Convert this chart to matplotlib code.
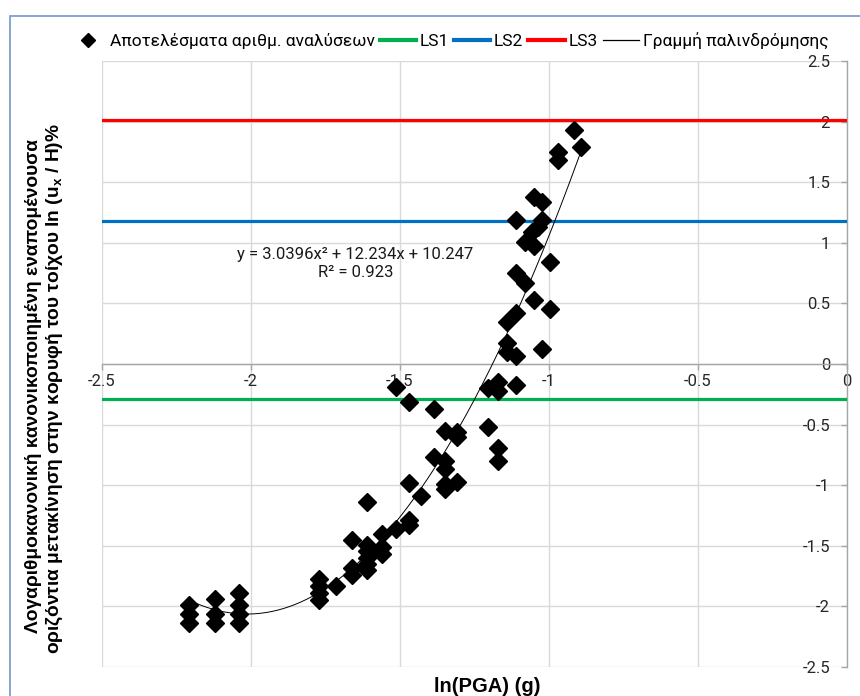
import numpy as np
import matplotlib
matplotlib.use("Agg")
import matplotlib.pyplot as plt
from matplotlib.lines import Line2D
from matplotlib.patches import Rectangle

plt.rcParams['axes.unicode_minus'] = False
plt.rcParams['font.family'] = ['Roboto', 'DejaVu Sans']

# ln(PGA) of each numerical analysis and the normalised residual displacement ln(ux/H)%
ln_pga = [
    -2.207, -2.207, -2.207,
    -2.120, -2.120, -2.120,
    -2.040, -2.040, -2.040, -2.040,
    -1.772, -1.772, -1.772, -1.772,
    -1.715,
    -1.661, -1.661, -1.661,
    -1.609, -1.609, -1.609, -1.609, -1.609, -1.609,
    -1.561, -1.561, -1.561,
    -1.514, -1.514,
    -1.470, -1.470, -1.470, -1.470,
    -1.427,
    -1.386, -1.386,
    -1.347, -1.347, -1.347, -1.347, -1.347,
    -1.309, -1.309, -1.309,
    -1.204, -1.204,
    -1.171, -1.171, -1.171, -1.171,
    -1.139, -1.139, -1.139,
    -1.109, -1.109, -1.109, -1.109, -1.109,
    -1.079, -1.079,
    -1.050, -1.055, -1.050, -1.050,
    -1.022, -1.022, -1.036, -1.022,
    -0.994, -0.994,
    -0.968, -0.968,
    -0.916,
    -0.892,
]
ln_disp = [
    -1.99, -2.06, -2.14,
    -1.94, -2.06, -2.14,
    -1.89, -1.99, -2.06, -2.14,
    -1.77, -1.83, -1.89, -1.95,
    -1.83,
    -1.45, -1.68, -1.74,
    -1.14, -1.49, -1.54, -1.60, -1.65, -1.70,
    -1.40, -1.51, -1.57,
    -1.36, -0.19,
    -0.31, -0.98, -1.29, -1.33,
    -1.09,
    -0.37, -0.77,
    -0.55, -0.80, -0.87, -0.99, -1.03,
    -0.56, -0.60, -0.97,
    -0.20, -0.52,
    -0.15, -0.22, -0.69, -0.80,
    0.35, 0.17, 0.10,
    1.19, 0.75, 0.42, 0.07, -0.17,
    1.01, 0.67,
    1.38, 1.09, 0.97, 0.53,
    1.34, 1.19, 1.13, 0.12,
    0.84, 0.45,
    1.75, 1.68,
    1.93,
    1.79,
]

# limit states (horizontal thresholds)
ls_names = ['LS1', 'LS2', 'LS3']
ls_values = [-0.29, 1.18, 2.01]
ls_colors = ['#00B050', '#0070C0', '#FF0000']

# quadratic regression coefficients
coef = [3.0396, 12.234, 10.247]
r2 = 0.923

xticks = [-2.5, -2.0, -1.5, -1.0, -0.5, 0.0]
yticks = [-2.5, -2.0, -1.5, -1.0, -0.5, 0.0, 0.5, 1.0, 1.5, 2.0, 2.5]

W, H = 860, 696
fig = plt.figure(figsize=(W / 100, H / 100), dpi=100)

# outer chart frame
fig.patches.append(Rectangle((10 / W, -0.05), 1.2, 1 - 16 / H + 0.05, transform=fig.transFigure,
                             fill=False, edgecolor='#7F9FCF', lw=1.3))

ax = fig.add_axes([101.7 / W, 1 - 667 / H, 745 / W, 606 / H])
ax.set_xlim(-2.5, 0)
ax.set_ylim(-2.5, 2.5)
ax.set_xticks(xticks)
ax.set_yticks(yticks)
ax.set_xticklabels([f'{v:g}' for v in xticks])
ax.set_yticklabels([f'{v:g}' for v in yticks])
ax.grid(True, color='#D9D9D9', lw=1, zorder=0)
ax.set_axisbelow(True)

for side in ('top', 'right'):
    ax.spines[side].set_visible(False)
ax.spines['left'].set_position(('data', 0))
ax.spines['bottom'].set_position(('data', 0))
for side in ('left', 'bottom'):
    ax.spines[side].set_color('#A6A6A6')
    ax.spines[side].set_linewidth(1)
    ax.spines[side].set_zorder(1.5)
ax.tick_params(axis='both', direction='out', length=4, width=1, color='#A6A6A6',
               labelsize=12, labelcolor='#262626')
ax.tick_params(axis='y', pad=8)
ax.tick_params(axis='x', pad=3)

for name, val, col in zip(ls_names, ls_values, ls_colors):
    ax.axhline(val, color=col, lw=2.3, zorder=2)

ax.plot(ln_pga, ln_disp, ls='none', marker='D', markersize=8.8, color='black', zorder=3)

xf = np.linspace(min(ln_pga), max(ln_pga), 200)
ax.plot(xf, np.polyval(coef, xf), color='black', lw=0.7, zorder=4)

ax.text(-1.648, 0.83, f'y = {coef[0]}x² + {coef[1]}x + {coef[2]}\nR² = {r2}',
        ha='center', va='center', fontsize=12, linespacing=1.25, color='#1a1a1a')

handles = [Line2D([], [], ls='none', marker='D', markersize=7.5, color='black')]
handles += [Line2D([], [], color=c, lw=3) for c in ls_colors]
handles += [Line2D([], [], color='black', lw=0.9)]
labels = ['Αποτελέσματα αριθμ. αναλύσεων'] + ls_names + ['Γραμμή παλινδρόμησης']
fig.legend(handles, labels, loc='center', bbox_to_anchor=(449 / W, 1 - 41 / H), ncol=5,
           frameon=False, fontsize=12.5, handlelength=2.1, handletextpad=0.2,
           columnspacing=0.3, borderpad=0)

bold_family = ['Liberation Sans', 'DejaVu Sans']
fig.text(487 / W, 1 - 686 / H, 'ln(PGA) (g)', ha='center', va='center', fontsize=14.5,
         fontweight='bold', family=bold_family)
fig.text(34 / W, 1 - 386 / H, 'Λογαριθμοκανονική κανονικοποιημένη εναπομένουσα',
         ha='center', va='center', rotation=90, fontsize=13.8, fontweight='bold',
         family=bold_family)
fig.text(55 / W, 1 - 389 / H,
         'οριζόντια μετακίνηση στην κορυφή του τοίχου ln (u$_\\mathregular{x}$ / H)%',
         ha='center', va='center', rotation=90, fontsize=13.8, fontweight='bold',
         family=bold_family)

fig.savefig('out.png', dpi=100)
